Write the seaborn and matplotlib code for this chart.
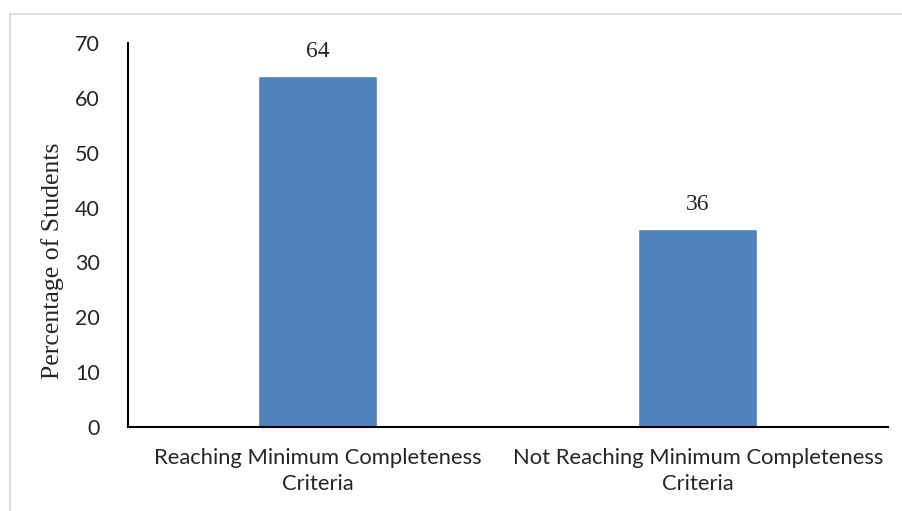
import matplotlib
matplotlib.use("Agg")
import matplotlib.pyplot as plt
import seaborn as sns
import pandas as pd
from matplotlib.patches import Rectangle

# Chart data
categories = ["Reaching Minimum Completeness\nCriteria",
              "Not Reaching Minimum Completeness\nCriteria"]
percentages = [64, 36]
y_ticks = [0, 10, 20, 30, 40, 50, 60, 70]

data = pd.DataFrame({"category": categories, "percentage": percentages})

sns.set_style("white")
plt.rcParams["font.family"] = ["Lato", "DejaVu Sans"]

fig = plt.figure(figsize=(9.03, 5.11), dpi=100)
ax = fig.add_axes([0.1412, 0.1644, 0.8422, 0.7515])

sns.barplot(data=data, x="category", y="percentage", color="#4F81BD",
            width=0.313, saturation=1, ax=ax)

ax.set_ylim(0, 70)
ax.set_yticks(y_ticks)
ax.set_xlim(-0.5, 1.5)
ax.tick_params(axis="y", length=0, pad=20, labelsize=15.5)
ax.tick_params(axis="x", length=0, pad=15, labelsize=15.8)
for lbl in ax.get_xticklabels():
    lbl.set_linespacing(1.4)
ax.set_xlabel("")
ax.set_ylabel("Percentage of Students", family=["Liberation Serif"],
              fontsize=18.5)
ax.yaxis.set_label_coords(-0.084, 0.432)

for s in ["top", "right"]:
    ax.spines[s].set_visible(False)
for s in ["left", "bottom"]:
    ax.spines[s].set_color("black")
    ax.spines[s].set_linewidth(1.5)

# value labels above bars
for i, v in enumerate(percentages):
    ax.text(i, v + 2.6, str(v), ha="center", va="bottom",
            family=["Liberation Serif"], fontsize=17)

# light frame around the chart
fig.patches.append(Rectangle((10 / 903, -0.1), 1.2, 1.1 - 14 / 511,
                             transform=fig.transFigure, fill=False,
                             edgecolor="#d9d9d9", linewidth=1.2))

fig.savefig("out.png", dpi=100)
